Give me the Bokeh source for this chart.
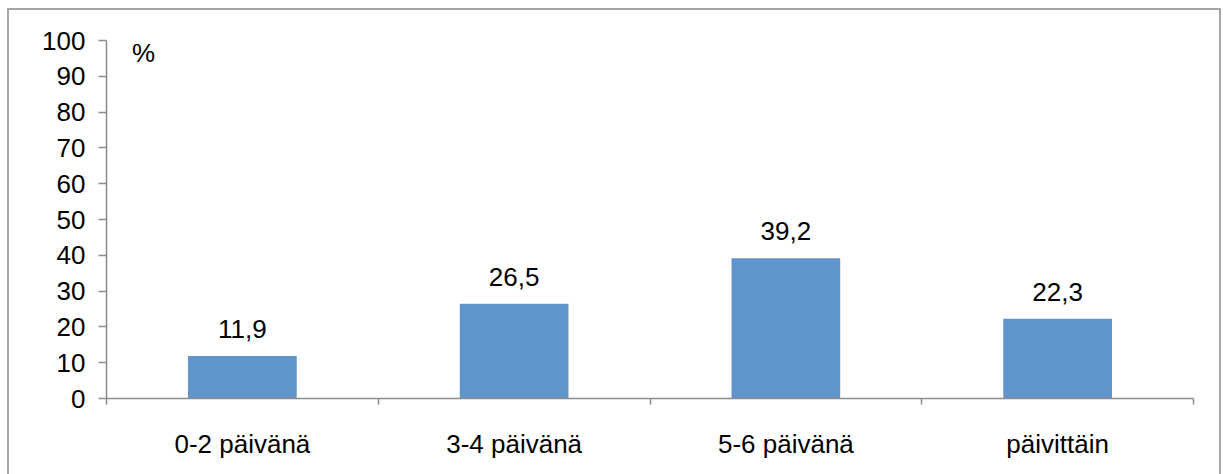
from bokeh.plotting import figure
from bokeh.models import ColumnDataSource, FixedTicker, Label, Range1d
from bokeh.embed import file_html
from bokeh.resources import INLINE
from bokeh.core.properties import value

categories = ["0-2 päivänä", "3-4 päivänä", "5-6 päivänä", "päivittäin"]
values = [11.9, 26.5, 39.2, 22.3]
value_labels = ["11,9", "26,5", "39,2", "22,3"]
y_ticks = [0, 10, 20, 30, 40, 50, 60, 70, 80, 90, 100]

FONT = "Liberation Sans"
FS = "26px"
AXIS_COLOR = "#8C8C8C"
BAR_COLOR = "#5F95CA"
FRAME = "#A6A6A6"

xs = [i + 0.5 for i in range(len(categories))]
src = ColumnDataSource(dict(x=xs, top=values, label=value_labels))

g = f"linear-gradient({FRAME},{FRAME})"
p = figure(width=1223, height=474, output_backend="svg", toolbar_location=None,
           x_range=Range1d(0, len(categories)), y_range=Range1d(0, 100),
           min_border_left=106, min_border_right=30, min_border_top=40, min_border_bottom=76,
           styles={
               "background-color": "white",
               "background-image": f"{g},{g},{g}",
               "background-position": "7px 8px, 7px 8px, 1219px 8px",
               "background-size": "2px 480px, 1214px 2px, 2px 480px",
               "background-repeat": "no-repeat",
           })
p.outline_line_color = None
p.xgrid.visible = False
p.ygrid.visible = False
p.background_fill_color = None
p.border_fill_color = None

p.vbar(x="x", top="top", width=0.4, bottom=0, source=src, fill_color=BAR_COLOR, line_color=None)
p.text(x="x", y="top", text="label", source=src, text_align="center", text_baseline="alphabetic",
       y_offset=-27, text_font=value(FONT), text_font_size=FS, text_color="black")

# x axis: labels at centers, tick marks at category boundaries
p.xaxis.ticker = FixedTicker(ticks=xs, minor_ticks=list(range(len(categories) + 1)))
p.xaxis.major_label_overrides = {x: c for x, c in zip(xs, categories)}
p.xaxis.major_tick_out = 0
p.xaxis.major_tick_in = 0
p.xaxis.minor_tick_out = 6
p.xaxis.minor_tick_in = 0
p.xaxis.minor_tick_line_color = AXIS_COLOR
p.xaxis.minor_tick_line_width = 1.5
p.xaxis.axis_line_color = AXIS_COLOR
p.xaxis.axis_line_width = 1.5
p.xaxis.major_label_standoff = 24
p.xaxis.major_label_text_font = FONT
p.xaxis.major_label_text_font_size = FS
p.xaxis.major_label_text_color = "black"

p.yaxis.ticker = FixedTicker(ticks=y_ticks)
p.yaxis.major_tick_out = 8
p.yaxis.major_tick_in = 0
p.yaxis.minor_tick_out = 0
p.yaxis.minor_tick_in = 0
p.yaxis.major_tick_line_color = AXIS_COLOR
p.yaxis.major_tick_line_width = 1.5
p.yaxis.axis_line_color = AXIS_COLOR
p.yaxis.axis_line_width = 1.5
p.yaxis.major_label_standoff = 13
p.yaxis.major_label_text_font = FONT
p.yaxis.major_label_text_font_size = FS
p.yaxis.major_label_text_color = "black"

p.add_layout(Label(x=0.136, y=96.6, text="%", text_align="center", text_baseline="middle",
                   text_font=FONT, text_font_size=FS, text_color="black"))

open("out.html", "w").write(file_html(p, INLINE))
